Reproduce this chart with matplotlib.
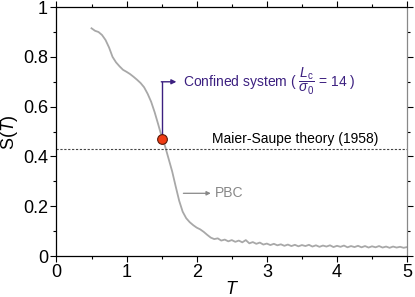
import numpy as np
import matplotlib
matplotlib.use("Agg")
from matplotlib import pyplot as plt

plt.rcParams['font.family'] = ['Liberation Sans', 'DejaVu Sans']
plt.rcParams['mathtext.fontset'] = 'custom'
plt.rcParams['mathtext.rm'] = 'Liberation Sans'
plt.rcParams['mathtext.it'] = 'Liberation Sans:italic'

# order parameter curve
temps = np.arange(0.5, 5.0001, 0.05)
order = [0.915, 0.905, 0.900, 0.888, 0.868, 0.838, 0.800, 0.778, 0.762, 0.748,
         0.740, 0.731, 0.720, 0.708, 0.695, 0.678, 0.652, 0.620, 0.578, 0.530,
         0.480, 0.440, 0.390, 0.340, 0.280, 0.222, 0.178, 0.152, 0.136, 0.124,
         0.114, 0.107, 0.097, 0.085, 0.074, 0.068, 0.071, 0.062, 0.066, 0.059,
         0.064, 0.057, 0.062, 0.055, 0.064, 0.051, 0.056, 0.049, 0.054, 0.046,
         0.050, 0.044, 0.049, 0.043, 0.047, 0.041, 0.046, 0.040, 0.045, 0.039,
         0.044, 0.040, 0.045, 0.038, 0.043, 0.037, 0.042, 0.038, 0.043, 0.036,
         0.041, 0.037, 0.042, 0.035, 0.040, 0.036, 0.041, 0.035, 0.040, 0.034,
         0.039, 0.035, 0.040, 0.034, 0.038, 0.033, 0.038, 0.034, 0.037, 0.033,
         0.036]

ms_level = 0.43          # Maier-Saupe value
point_T, point_S = 1.5, 0.47

fig = plt.figure(figsize=(4.15, 2.97), dpi=100)
ax = fig.add_axes([0.136, 0.138, 0.845, 0.838])

ax.plot(temps, order, color='#a8a8a8', lw=1.3)
ax.axhline(ms_level, color='#444444', lw=0.8, ls=(0, (2, 1.5)))
ax.plot(point_T, point_S, 'o', ms=7, mfc='#f03c14', mec='#5a1a0a', mew=0.8, zorder=5)

purple = '#3c2080'
ax.plot([point_T, point_T], [point_S, 0.70], color=purple, lw=1.0)
ax.annotate('', xy=(1.71, 0.70), xytext=(point_T - 0.005, 0.70),
            arrowprops=dict(arrowstyle='-|>', color=purple, lw=1.0,
                            mutation_scale=7, shrinkA=0, shrinkB=0))
ax.text(1.81, 0.70, r'Confined system ( $\dfrac{L_{\mathrm{c}}}{\sigma_0}$ = $\mathit{14}$ )',
        color=purple, fontsize=10, va='center', ha='left')

ax.text(3.41, 0.443, 'Maier-Saupe theory (1958)', fontsize=10, ha='center', va='bottom')

ax.annotate('', xy=(2.2, 0.252), xytext=(1.81, 0.252),
            arrowprops=dict(arrowstyle='-|>', color='#888888', lw=0.9,
                            mutation_scale=6, shrinkA=0, shrinkB=0))
ax.text(2.26, 0.252, 'PBC', color='#888888', fontsize=10, va='center', ha='left')

ax.set_xlim(0, 5)
ax.set_ylim(0, 1)
ax.set_xticks([0, 1, 2, 3, 4, 5])
ax.set_xticks(np.arange(0.5, 5, 1), minor=True)
ax.set_yticks([0, 0.2, 0.4, 0.6, 0.8, 1])
ax.set_yticklabels(['0', '0.2', '0.4', '0.6', '0.8', '1'])
ax.set_yticks(np.arange(0.1, 1, 0.2), minor=True)
ax.tick_params(which='both', direction='out', top=True, right=True, labelsize=13, width=0.8)
ax.tick_params(which='major', length=4, pad=2)
ax.tick_params(which='minor', length=2.5)
ax.spines['right'].set_color('#888888')
for s in ax.spines.values():
    s.set_linewidth(0.9)

ax.set_xlabel(r'$T$', fontsize=13, labelpad=0)
ax.set_ylabel(r'S($T$)', fontsize=13, labelpad=2)

fig.savefig('out.png', dpi=100)
